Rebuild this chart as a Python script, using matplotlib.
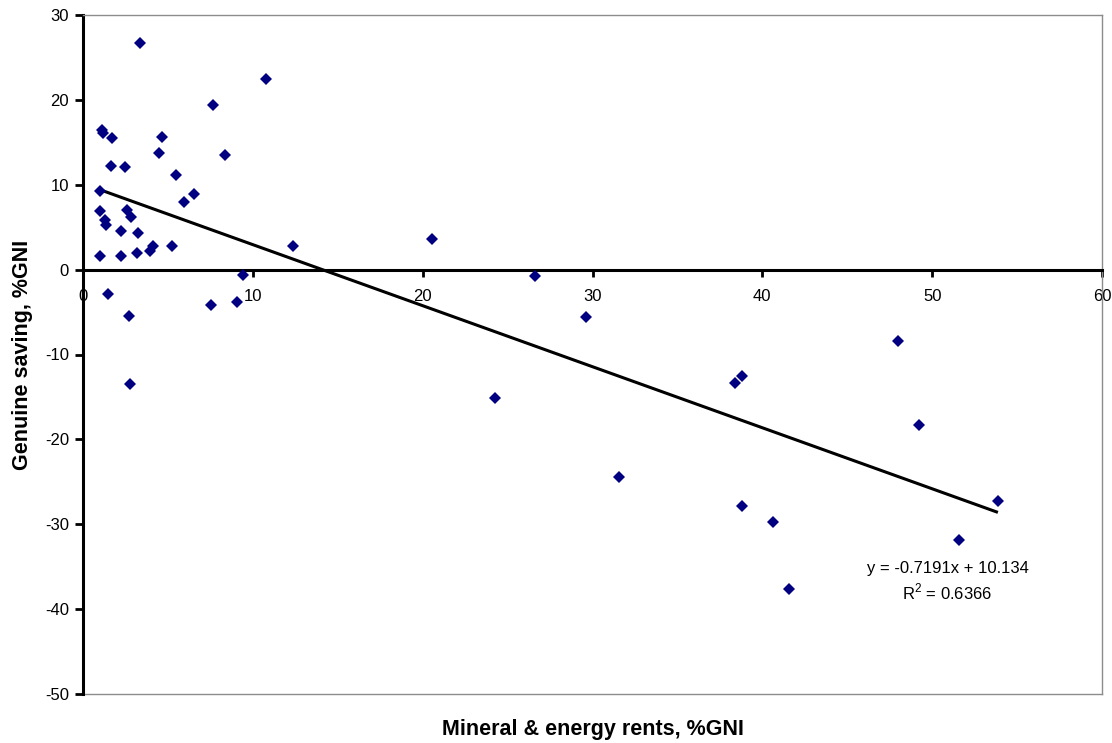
import matplotlib
matplotlib.use("Agg")
import matplotlib.pyplot as plt
import numpy as np

plt.rcParams['font.family'] = ['Liberation Sans', 'DejaVu Sans']
plt.rcParams['mathtext.fontset'] = 'custom'
plt.rcParams['mathtext.rm'] = 'Liberation Sans'

# Data: mineral & energy rents (%GNI) vs genuine saving (%GNI)
rents = [3.36, 10.75, 7.68, 1.10, 1.20, 1.73, 4.66, 4.46, 8.37, 1.65,
         2.48, 5.48, 1.00, 6.54, 5.96, 1.00, 2.57, 2.83, 1.30, 1.34,
         2.24, 3.22, 5.25, 4.13, 3.95, 12.34, 1.00, 2.24, 3.20, 9.42,
         1.45, 2.69, 7.55, 9.08, 2.75, 20.56, 26.64, 29.64, 24.26, 31.55,
         38.38, 38.79, 38.81, 40.64, 41.58, 49.22, 53.87, 51.59, 48.00]
saving = [26.7, 22.5, 19.4, 16.4, 16.1, 15.5, 15.6, 13.7, 13.5, 12.2,
          12.1, 11.2, 9.3, 8.9, 8.0, 6.95, 7.0, 6.2, 5.85, 5.3,
          4.5, 4.3, 2.8, 2.8, 2.2, 2.8, 1.6, 1.6, 1.9, -0.6,
          -2.9, -5.5, -4.2, -3.85, -13.5, 3.6, -0.8, -5.6, -15.1, -24.4,
          -13.4, -12.5, -27.9, -29.7, -37.65, -18.3, -27.3, -31.8, -8.4]

trend_slope = -0.7191
trend_intercept = 10.134
r_squared = 0.6366

x_ticks = [0, 10, 20, 30, 40, 50, 60]
y_ticks = [-50, -40, -30, -20, -10, 0, 10, 20, 30]

W, H = 1112, 743
fig = plt.figure(figsize=(W / 100, H / 100), dpi=100)
ax = fig.add_axes([83 / W, (H - 694) / H, (1102 - 83) / W, (694 - 15) / H])

ax.plot(rents, saving, linestyle='none', marker='D', markersize=6.3,
        markerfacecolor='#000080', markeredgecolor='#000080', markeredgewidth=0,
        zorder=3)

xs = np.array([min(rents), max(rents)])
ax.plot(xs, trend_slope * xs + trend_intercept, color='black', lw=2.2, zorder=2,
        solid_capstyle='butt')

ax.set_xlim(0, 60)
ax.set_ylim(-50, 30)
ax.set_xticks(x_ticks)
ax.set_yticks(y_ticks)
ax.set_xticklabels([str(t) for t in x_ticks])
ax.set_yticklabels([str(t) for t in y_ticks])

ax.spines['bottom'].set_position(('data', 0))
ax.spines['bottom'].set_color('black')
ax.spines['bottom'].set_linewidth(2.2)
ax.spines['left'].set_color('black')
ax.spines['left'].set_linewidth(2.2)
for s in ['top', 'right']:
    ax.spines[s].set_color('#8c8c8c')
    ax.spines[s].set_linewidth(1.0)
ax.axhline(-50, color='#8c8c8c', lw=1.0, clip_on=False, zorder=1)

ax.tick_params(axis='x', direction='out', length=5, width=2, pad=9,
               labelsize=12, colors='black')
ax.tick_params(axis='y', direction='out', length=6, width=2, pad=4,
               labelsize=12, colors='black')

ax.set_xlabel('Mineral & energy rents, %GNI', fontsize=15.5, fontweight='bold')
ax.xaxis.label.set_va('center')
ax.xaxis.set_label_coords(0.5, -(729 - 694) / 679)
ax.set_ylabel('Genuine saving, %GNI', fontsize=15.5, fontweight='bold')
ax.yaxis.label.set_va('center')
ax.yaxis.set_label_coords(-(83 - 23) / 1019, 0.5)

ax.text(50.9, -35.2, f'y = {trend_slope}x + {trend_intercept}', ha='center',
        va='center', fontsize=12)
ax.text(50.9, -38.0, f'R$^2$ = {r_squared}', ha='center', va='center',
        fontsize=12)

fig.savefig('out.png', dpi=100)
